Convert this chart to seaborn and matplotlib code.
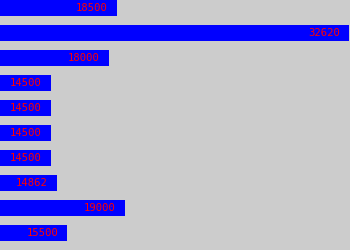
import matplotlib
matplotlib.use("Agg")
import matplotlib.pyplot as plt
import seaborn as sns
import pandas as pd

categories = ["Row 1", "Row 2", "Row 3", "Row 4", "Row 5",
              "Row 6", "Row 7", "Row 8", "Row 9", "Row 10"]
values = [18500, 32620, 18000, 14500, 14500, 14500, 14500, 14862, 19000, 15500]
labels = ["18500", "32620", "18000", "14500", "14500",
          "14500", "14500", "14862", "19000", "15500"]

df = pd.DataFrame({"category": categories, "value": values})

fig = plt.figure(figsize=(3.5, 2.5), dpi=100)
fig.patch.set_facecolor("#cccccc")
ax = fig.add_axes([0, 0, 1, 1])
ax.set_facecolor("#cccccc")

sns.barplot(data=df, x="value", y="category", orient="h", color="#0000ff",
            saturation=1, width=0.64, ax=ax)

ax.set_xlim(11400, 32680)
ax.set_ylim(9.68, -0.32)

for i, (v, lab) in enumerate(zip(values, labels)):
    ax.annotate(lab, xy=(v, i), xytext=(-9, 0), textcoords="offset pixels",
                ha="right", va="center", color="#ff0000",
                fontsize=7.6, family="DejaVu Sans Mono")

ax.set_axis_off()
fig.savefig("out.png", dpi=100, facecolor="#cccccc")
